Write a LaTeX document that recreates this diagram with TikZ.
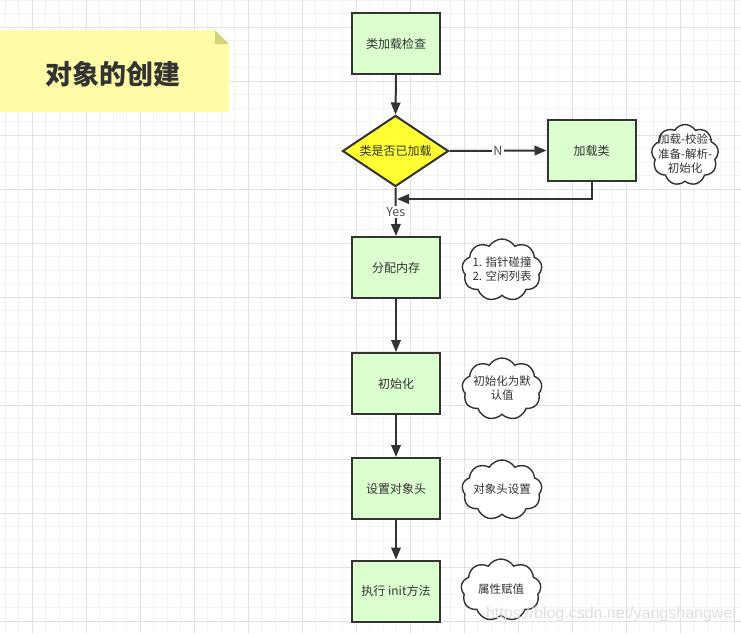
\documentclass[tikz,border=0pt]{standalone}
\usepackage{fontspec}
\setmainfont{Liberation Sans}
\newfontfamily\cjk{Noto Sans CJK SC}
\usetikzlibrary{arrows.meta,shapes.geometric,shapes.symbols}
\definecolor{linec}{HTML}{333333}
\definecolor{txtc}{HTML}{333333}
\definecolor{boxg}{RGB}{219,255,206}
\definecolor{notec}{RGB}{255,251,166}
\definecolor{foldc}{RGB}{214,209,125}
\definecolor{diac}{RGB}{255,255,51}
\definecolor{gridminor}{RGB}{244,244,244}
\definecolor{gridmajor}{RGB}{226,226,226}
\newcommand{\cloudtxt}[1]{\makebox[0pt]{\raisebox{-0.3em}{\begin{tabular}{@{}c@{}}#1\end{tabular}}}}
\tikzset{
  stepbox/.style={draw=linec, fill=boxg, line width=2pt, minimum width=88pt, minimum height=61pt,
    inner sep=0pt, text=txtc, font=\cjk\fontsize{12}{14}\selectfont},
  decision/.style={diamond, aspect=1.5, draw=linec, fill=diac, line width=2pt, minimum width=106pt, minimum height=71pt,
    inner sep=0pt, text=txtc, font=\cjk\fontsize{12}{14}\selectfont},
  conn/.style={draw=linec, line width=2pt, -{Triangle[length=12pt,width=9.5pt]}},
  lbl/.style={fill=white, inner sep=1.5pt, text=txtc!85, font=\cjk\fontsize{12.5}{14}\selectfont},
  note/.style={cloud, cloud puffs=9, cloud puff arc=118, draw=linec, fill=white, line width=1.4pt,
    inner sep=0pt, text height=0pt, text depth=0pt, text=txtc,
    font=\cjk\fontsize{11.5}{14.5}\selectfont},
  gminor/.style={draw=gridminor, line width=1pt},
  gmajor/.style={draw=gridmajor, line width=1pt}
}
\begin{document}
\begin{tikzpicture}[x=1pt,y=-1pt]
\useasboundingbox (0,0) rectangle (741,633);
\fill[white] (0,0) rectangle (741,633);
% grid
\foreach \i in {0,...,54} {\draw[gminor] ({5.3+13.5*\i},0) -- ++(0,633);}
\foreach \i in {0,...,47} {\draw[gminor] (0,{0.3+13.5*\i}) -- ++(741,0);}
\foreach \i in {0,...,13} {\draw[gmajor] ({32.3+54*\i},0) -- ++(0,633);}
\foreach \i in {0,...,11} {\draw[gmajor] (0,{27.3+54*\i}) -- ++(741,0);}
% title note
\fill[notec] (0,30) -- (215,30) -- (229,44) -- (229,112) -- (0,112) -- cycle;
\fill[foldc] (215,30) -- (215,44) -- (229,44) -- cycle;
\node[font=\cjk\bfseries\fontsize{27}{30}\selectfont, text=txtc] (title) at (112.5,74) {对象的创建};
% flow
\node[stepbox] (b1) at (396,43.5) {类加载检查};
\node[decision] (dia) at (395.5,151) {类是否已加载};
\node[stepbox] (load) at (591.5,150.5) {加载类};
\node[stepbox] (b2) at (396,267.5) {分配内存};
\node[stepbox] (b3) at (396,383.5) {初始化};
\node[stepbox] (b4) at (396,488.5) {设置对象头};
\node[stepbox] (b5) at (396,591) {执行 init方法};
\coordinate (ret) at (397,199);
\draw[conn] (b1.south) -- (dia.north);
\draw[conn] (dia.east) -- node[lbl]{N} (load.west);
\draw[conn] (load.south) |- (ret);
\draw[conn] (dia.south) -- node[lbl]{Yes} (b2.north);
\draw[conn] (b2.south) -- (b3.north);
\draw[conn] (b3.south) -- (b4.north);
\draw[conn] (b4.south) -- (b5.north);
% clouds
\node[note, minimum width=67pt, minimum height=61pt] (c1) at (685,155) {\cloudtxt{加载-校验-\\准备-解析-\\初始化}};
\node[note, minimum width=80pt, minimum height=62pt] (c2) at (502,270) {\cloudtxt{1. 指针碰撞\\2. 空闲列表}};
\node[note, minimum width=80pt, minimum height=62pt] (c3) at (502,389) {\cloudtxt{初始化为默\\认值}};
\node[note, minimum width=80pt, minimum height=60pt] (c4) at (502,490) {\cloudtxt{对象头设置}};
\node[note, minimum width=80pt, minimum height=62pt] (c5) at (501,590) {\cloudtxt{属性赋值}};
% watermark
\node[anchor=base, text=gray!25, font=\fontsize{16}{18}\selectfont, inner sep=0pt] (wm) at (611,618) {https://blog.csdn.net/yangshangwei};
\end{tikzpicture}
\end{document}
